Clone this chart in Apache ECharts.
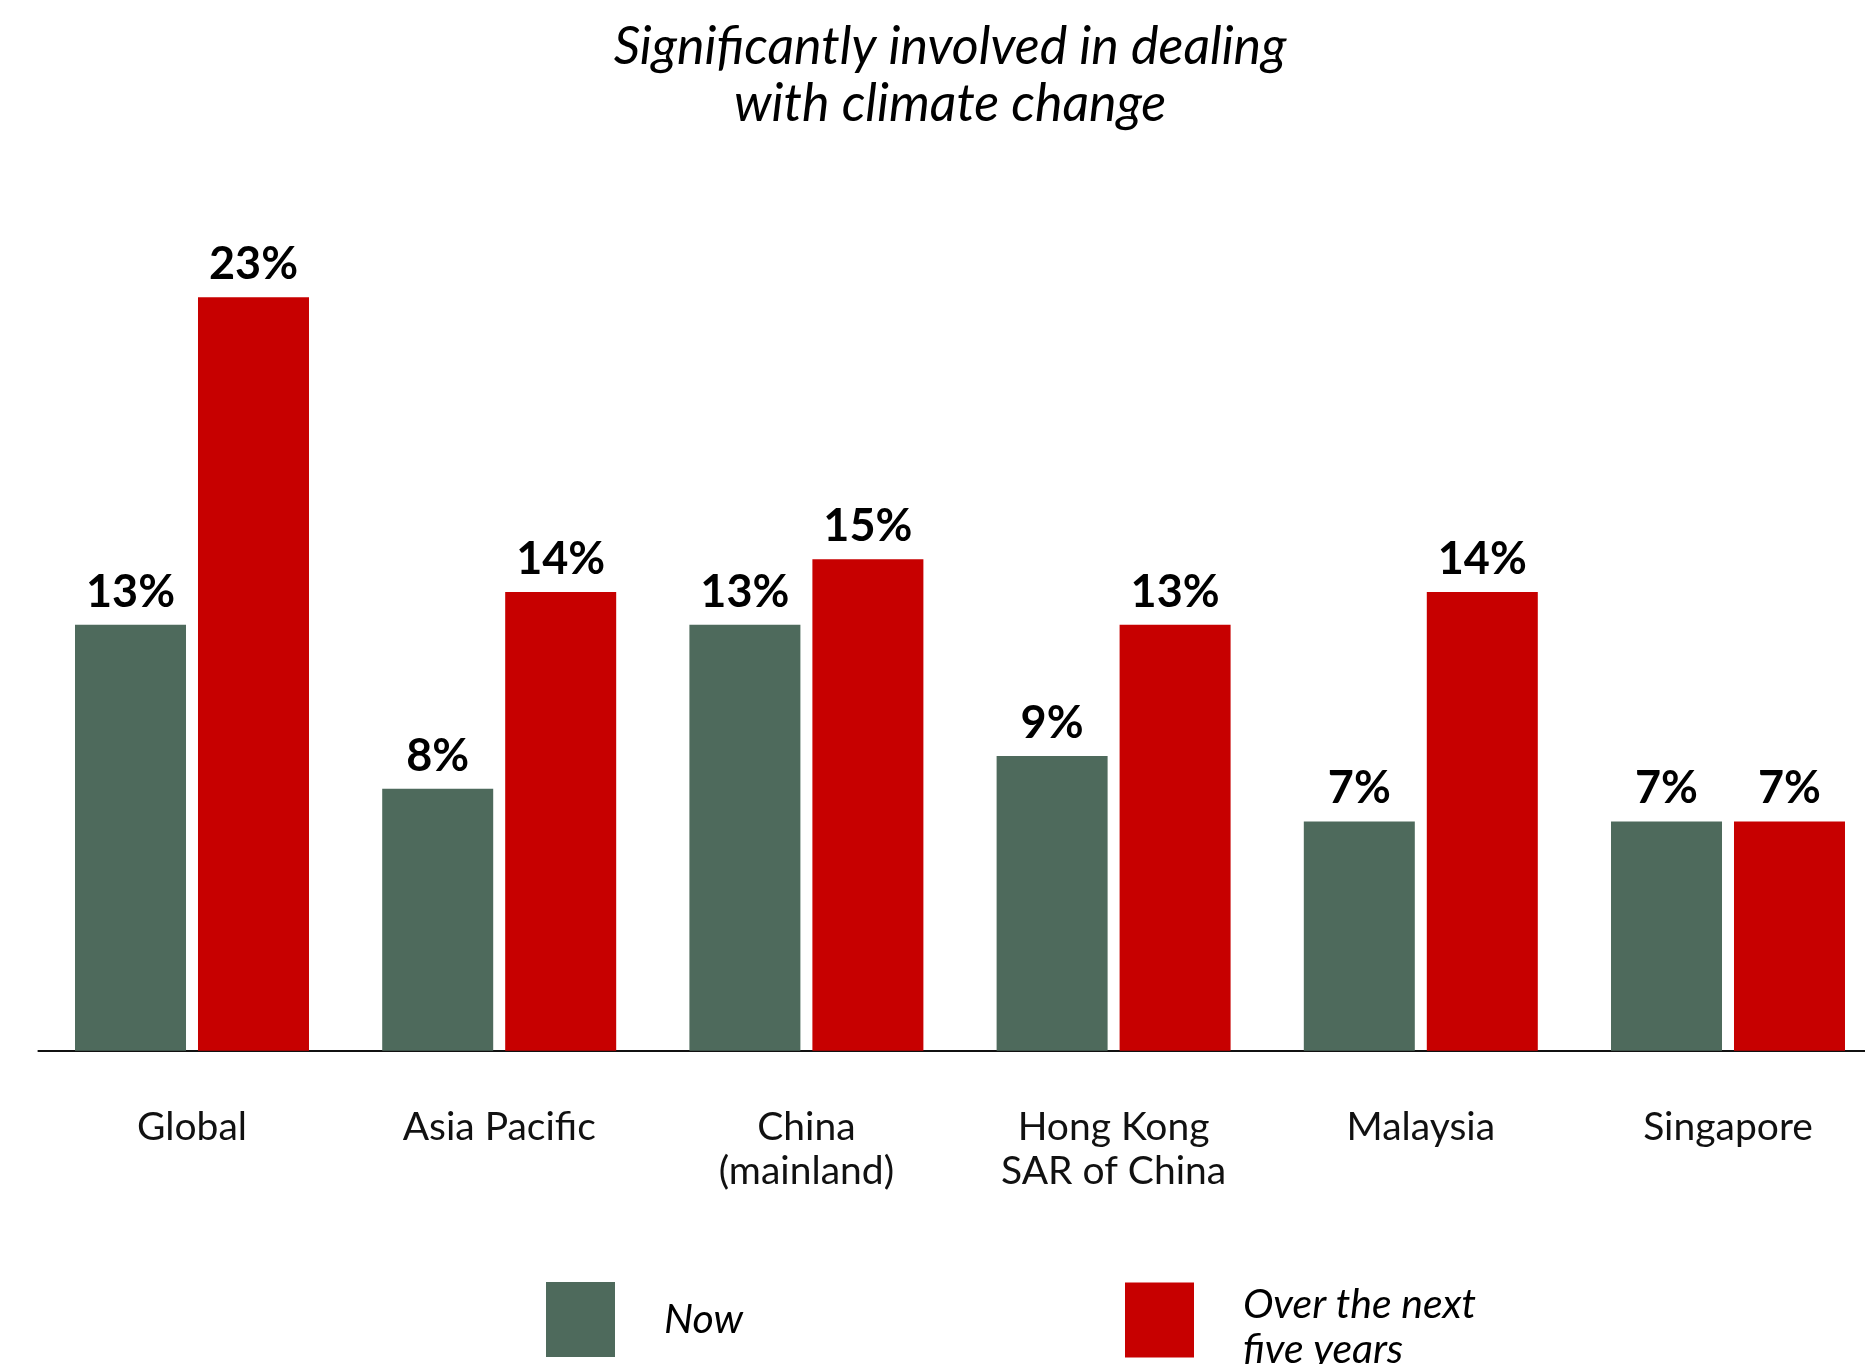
<!DOCTYPE html>
<html>
<head>
<meta charset="utf-8">
<title>Significantly involved in dealing with climate change</title>
<script src="https://cdn.jsdelivr.net/npm/echarts@6/dist/echarts.min.js"></script>
<style>
  html, body { margin: 0; padding: 0; background: #fff; }
  #chart { width: 1865px; height: 1364px; }
</style>
</head>
<body>
<div id="chart"></div>
<script>
var categories = ['Global', 'Asia Pacific', 'China\n(mainland)', 'Hong Kong\nSAR of China', 'Malaysia', 'Singapore'];
var nowValues = [13, 8, 13, 9, 7, 7];
var nextFiveValues = [23, 14, 15, 13, 14, 7];
var seriesNames = ['Now', 'Over the next five years'];

var green = '#4e6a5c';
var red = '#c70000';

var myChart = echarts.init(document.getElementById('chart'));

var labelStyle = {
    show: true,
    position: 'top',
    distance: 10,
    formatter: '{c}%',
    color: '#000',
    fontFamily: 'Lato',
    fontWeight: 'bold',
    fontSize: 45
};

var option = {
    backgroundColor: '#fff',
    animation: false,
    title: {
        text: 'Significantly involved in dealing\nwith climate change',
        left: 945,
        textAlign: 'center',
        top: 14,
        textStyle: {
            fontFamily: 'Lato',
            fontStyle: 'italic',
            fontWeight: 'normal',
            fontSize: 52,
            lineHeight: 57,
            color: '#000'
        }
    },
    legend: [{
        data: [seriesNames[0]],
        left: 546,
        top: 1282,
        padding: 0,
        icon: 'rect',
        itemWidth: 69,
        itemHeight: 75,
        selectedMode: false,
        textStyle: {
            fontFamily: 'Lato',
            fontStyle: 'italic',
            fontSize: 41,
            color: '#000',
            padding: [0, 0, 0, 44]
        }
    }, {
        data: [seriesNames[1]],
        left: 1125,
        top: 1270,
        padding: 0,
        icon: 'rect',
        itemWidth: 69,
        itemHeight: 75,
        selectedMode: false,
        formatter: function () {
            return '{t|Over the next\nfive years}';
        },
        textStyle: {
            color: '#000',
            padding: [0, 0, 0, 44],
            rich: {
                t: {
                    fontFamily: 'Lato',
                    fontStyle: 'italic',
                    fontSize: 41,
                    lineHeight: 45,
                    color: '#000',
                    padding: [14, 0, 0, 0]
                }
            }
        }
    }],
    grid: {
        left: 38.4,
        width: 1843.2,
        top: 68,
        bottom: 313.3,
        outerBoundsMode: 'none'
    },
    xAxis: {
        type: 'category',
        data: categories,
        axisLine: { lineStyle: { color: '#111', width: 2 } },
        axisTick: { show: false },
        axisLabel: {
            margin: 55,
            fontFamily: 'Lato',
            fontSize: 39,
            lineHeight: 44,
            color: '#111'
        }
    },
    yAxis: {
        type: 'value',
        min: 0,
        max: 30,
        show: false,
        splitLine: { show: false }
    },
    series: [{
        name: seriesNames[0],
        type: 'bar',
        data: nowValues,
        barWidth: 111,
        barGap: '10.8%',
        itemStyle: { color: green },
        label: labelStyle
    }, {
        name: seriesNames[1],
        type: 'bar',
        data: nextFiveValues,
        barWidth: 111,
        barGap: '10.8%',
        itemStyle: { color: red },
        label: labelStyle
    }]
};

myChart.setOption(option);
window.addEventListener('resize', function () {
    myChart.resize();
});
</script>
</body>
</html>
